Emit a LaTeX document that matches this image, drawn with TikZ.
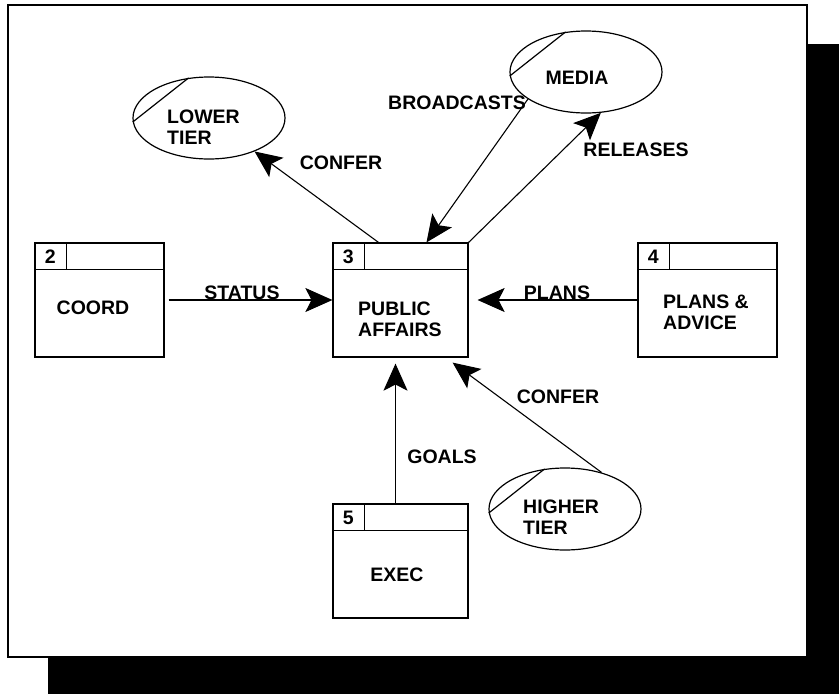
\documentclass[tikz,border=0pt]{standalone}
\usepackage{fontspec}
\setmainfont{Liberation Sans}
\usetikzlibrary{arrows.meta,shapes.geometric}

\begin{document}
\begin{tikzpicture}[x=1pt,y=-1pt,
  every node/.style={font=\fontsize{19.5}{21}\selectfont\bfseries},
  box/.style={rectangle,draw,line width=1.2pt,minimum height=114pt,inner sep=0pt},
  ent/.style={ellipse,draw,line width=1.2pt,minimum width=152pt,
              minimum height=82pt,inner sep=0pt},
  txt/.style={align=left,inner sep=0pt},
  num/.style={inner sep=0pt},
  lbl/.style={inner sep=1pt},
  flow/.style={line width=1.1pt,-{Stealth[length=27pt,width=24pt,inset=6pt]}}]

  % --- page, frame and its black drop shadow
  \useasboundingbox (0,0) rectangle (839,694);
  \fill[black] (808,44) rectangle (839,694);
  \fill[black] (48,657) rectangle (839,694);
  \draw[line width=2pt] (8,5) rectangle (807,657);

  % --- process boxes
  \node[box,minimum width=129pt] (coord) at (99.5,300)  {};
  \node[box,minimum width=135pt] (pa)    at (400.5,300) {};
  \node[box,minimum width=139pt] (plans) at (707.5,300) {};
  \node[box,minimum width=135pt] (exec)  at (400.5,561) {};
  % header strip and number cell of each box
  \foreach \b/\n in {coord/2,pa/3,plans/4,exec/5} {
    \draw[line width=1.2pt] ([yshift=-27pt]\b.north west) -- ([yshift=-27pt]\b.north east);
    \draw[line width=1.2pt] ([xshift=32pt]\b.north west) -- ([xshift=32pt,yshift=-27pt]\b.north west);
    \node[num] (\b-n) at ([xshift=16pt,yshift=-14pt]\b.north west) {\n};
  }
  \node[txt] (coord-t)            at (93,308)  {COORD};
  \node[txt,anchor=west] (pa-t)    at (358,319) {PUBLIC\\AFFAIRS};
  \node[txt,anchor=west] (plans-t) at (663,312) {PLANS \&\\ADVICE};
  \node[txt] (exec-t)             at (397,575) {EXEC};

  % --- external entities (ellipses with a cut corner)
  \node[ent] (lower)  at (209,118) {};
  \node[ent] (media)  at (586,72)  {};
  \node[ent] (higher) at (565,509) {};
  \foreach \e in {lower,media,higher}
    \draw[line width=1.2pt] (\e.183) -- (\e.117);
  \node[txt,anchor=west] (lower-t)  at (167,127) {LOWER\\TIER};
  \node[txt]             (media-t)  at (577,78)  {MEDIA};
  \node[txt,anchor=west] (higher-t) at (523,517) {HIGHER\\TIER};

  % --- data flows
  \draw[flow] ([xshift=-22pt]pa.north) -- (lower);
  \draw[flow] (media.205) -- ([xshift=26pt]pa.north);
  \draw[flow] (pa.north east) -- (media.290);
  \draw[flow,shorten <=4pt] (coord.east) -- (pa.west);
  \draw[flow,shorten >=9pt] (plans.west) -- (pa.east);
  \draw[flow,shorten >=6pt] ([xshift=-5pt]exec.north) -- ([xshift=-5pt]pa.south);
  \draw[flow] (higher.45) -- ([xshift=-16pt,yshift=-5pt]pa.south east);

  % --- flow labels
  \node[lbl] (l-conf1) at (341,163) {CONFER};
  \node[lbl] (l-brd)   at (457,103) {BROADCASTS};
  \node[lbl] (l-rel)   at (636,150) {RELEASES};
  \node[lbl,anchor=south] (l-stat)  at (242,301) {STATUS};
  \node[lbl,anchor=south] (l-plans) at (557,301) {PLANS};
  \node[lbl] (l-goals) at (442,457) {GOALS};
  \node[lbl] (l-conf2) at (558,397) {CONFER};
\end{tikzpicture}
\end{document}
